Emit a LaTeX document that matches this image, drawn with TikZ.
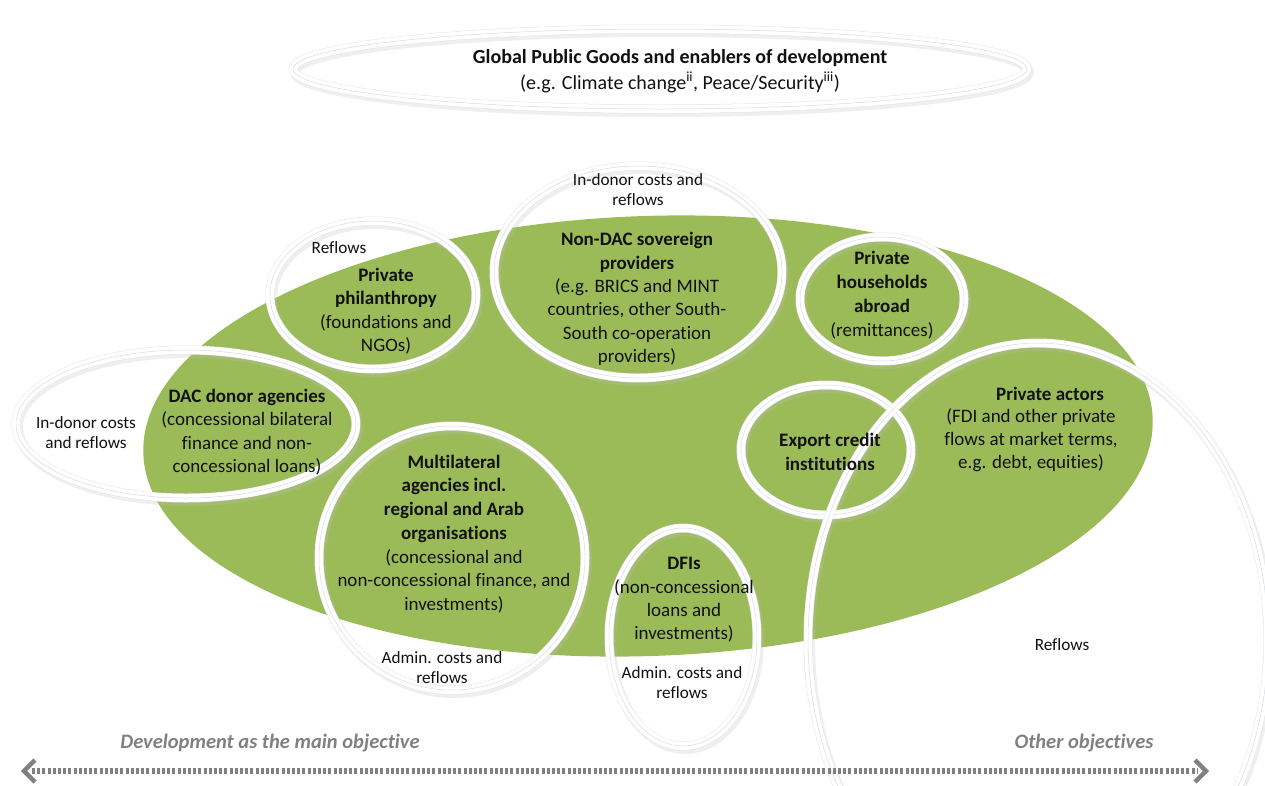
\documentclass[tikz,border=0pt]{standalone}
\usepackage{fontspec}
\setmainfont{Carlito}[Ligatures=NoCommon]
\definecolor{olive}{HTML}{9BBB59}
\definecolor{txt}{HTML}{111111}
\definecolor{arrowgray}{HTML}{808080}
\definecolor{ringline}{HTML}{D3DBE8}
\tikzset{
  shade ring/.style={draw=black!25, line width=10pt, opacity=0.25},
  ring edge/.style={draw=black!10, line width=9pt},
  ring white/.style={draw=white, line width=8pt},
  ring core/.style={draw=ringline, line width=0.5pt},
  body/.style={align=center, text=txt, inner sep=0pt, font=\fontsize{19}{23.3}\selectfont},
  small/.style={align=center, text=txt, inner sep=0pt, font=\fontsize{17.2}{20}\selectfont},
  axislabel/.style={text=arrowgray, inner sep=0pt, font=\bfseries\itshape\fontsize{20.5}{24}\selectfont},
}
\newcommand\ringshadow[3]{\draw[shade ring] ([shift={(2,3)}]#1) ellipse [x radius=#2, y radius=#3];}
\newcommand\ringdraw[3]{%
  \draw[ring edge] (#1) ellipse [x radius=#2, y radius=#3];
  \draw[ring white] (#1) ellipse [x radius=#2, y radius=#3];
  \draw[ring core] (#1) ellipse [x radius=#2, y radius=#3];}
\begin{document}
\begin{tikzpicture}[x=1pt,y=-1pt]
\useasboundingbox (0,0) rectangle (1265,785);
% centres
\coordinate (gpg) at (660,69);
\coordinate (green) at (648,436);
\coordinate (phil) at (373,295);
\coordinate (ndac) at (638,272);
\coordinate (hh) at (882,299);
\coordinate (dac) at (186,424);
\coordinate (mult) at (452,558);
\coordinate (dfi) at (683,637);
\coordinate (eci) at (826,450);
\coordinate (pa) at (1038,640);
% green area
\fill[olive, rotate around={2:(green)}] (green) ellipse [x radius=505pt, y radius=220pt];
% shadows
\ringshadow{gpg}{367pt}{40pt}
\ringshadow{phil}{103pt}{74pt}
\ringshadow{ndac}{144pt}{106pt}
\ringshadow{hh}{82pt}{62pt}
\ringshadow{dac}{170pt}{74pt}
\ringshadow{mult}{133pt}{132pt}
\ringshadow{dfi}{74pt}{109pt}
\ringshadow{eci}{85pt}{65pt}
\ringshadow{pa}{230pt}{297pt}
% rings
\ringdraw{gpg}{367pt}{40pt}
\ringdraw{phil}{103pt}{74pt}
\ringdraw{ndac}{144pt}{106pt}
\ringdraw{hh}{82pt}{62pt}
\ringdraw{dac}{170pt}{74pt}
\ringdraw{mult}{133pt}{132pt}
\ringdraw{dfi}{74pt}{109pt}
\ringdraw{eci}{85pt}{65pt}
\ringdraw{pa}{230pt}{297pt}
% texts
\node[body, font=\fontsize{20}{26}\selectfont] (tgpg) at (680,71)
  {\textbf{Global Public Goods and enablers of development}\\(e.g. Climate change\textsuperscript{ii}, Peace/Security\textsuperscript{iii})};
\node[small] (tndacr) at (638,190) {In-donor costs and\\reflows};
\node[small] (tphilr) at (339,248) {Reflows};
\node[body] (tphil) at (386,311) {\textbf{Private}\\\textbf{philanthropy}\\(foundations and\\NGOs)};
\node[body] (tndac) at (637,299) {\textbf{Non-DAC sovereign}\\\textbf{providers}\\(e.g. BRICS and MINT\\countries, other South-\\South co-operation\\providers)};
\node[body, font=\fontsize{19}{24}\selectfont] (thh) at (882,295) {\textbf{Private}\\\textbf{households}\\\textbf{abroad}\\(remittances)};
\node[body] (tdac) at (247,432) {\textbf{DAC donor agencies}\\(concessional bilateral\\finance and non-\\concessional loans)};
\node[small] (tdacr) at (86,433) {In-donor costs\\and reflows};
\node[body, font=\fontsize{19}{23.7}\selectfont] (tmult) at (454,534) {\textbf{Multilateral}\\\textbf{agencies incl.}\\\textbf{regional and Arab}\\\textbf{organisations}\\(concessional and\\non-concessional finance, and\\investments)};
\node[small] (tmultr) at (442,668) {Admin. costs and\\reflows};
\node[body] (tdfi) at (684,600) {\textbf{DFIs}\\(non-concessional\\loans and\\investments)};
\node[small] (tdfir) at (682,683) {Admin. costs and\\reflows};
\node[body] (teci) at (830,452) {\textbf{Export credit}\\\textbf{institutions}};
\node[body] (tpah) at (1050,394) {\textbf{Private actors}};
\node[body] (tpa) at (1031,440) {(FDI and other private\\flows at market terms,\\e.g. debt, equities)};
\node[small] (tpar) at (1062,645) {Reflows};
% axis
\node[axislabel] (ldev) at (270,743) {Development as the main objective};
\node[axislabel] (loth) at (1084,743) {Other objectives};
\coordinate (aL) at (24,771);
\coordinate (aR) at (1206,771);
\draw[arrowgray, line width=6.5pt, dash pattern=on 3pt off 2.2pt] ([xshift=8pt]aL) -- ([xshift=-8pt]aR);
\draw[arrowgray, line width=4.5pt, line join=miter] ([shift={(11,-11)}]aL) -- (aL) -- ([shift={(11,11)}]aL);
\draw[arrowgray, line width=4.5pt, line join=miter] ([shift={(-11,-11)}]aR) -- (aR) -- ([shift={(-11,11)}]aR);
\end{tikzpicture}
\end{document}
